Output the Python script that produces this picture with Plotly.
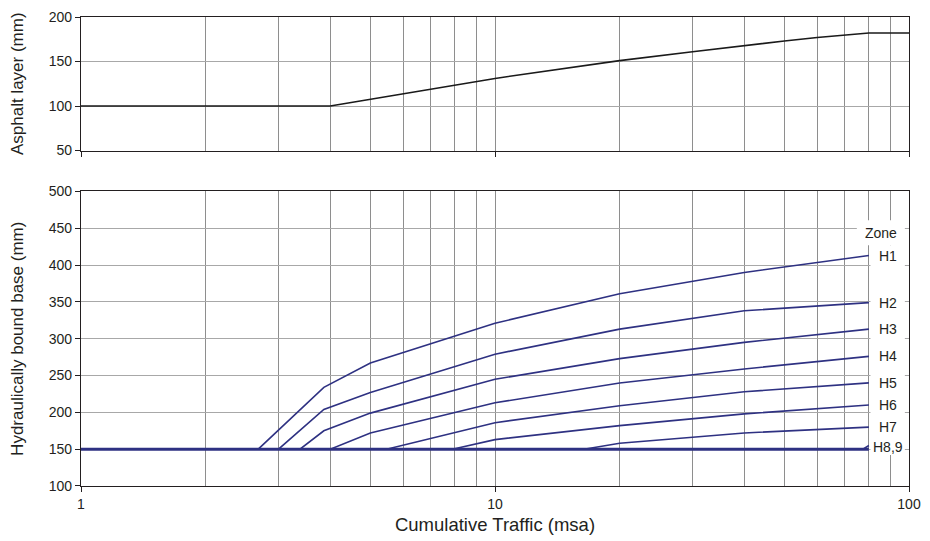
import math
import plotly.graph_objects as go

# ---------------- data ----------------
asphalt_x = [1, 4, 10, 20, 30, 40, 50, 60, 70, 80, 100]
asphalt_y = [100, 100, 131, 151, 161, 168, 173, 177, 180, 182, 182]

zone_names = ["H1", "H2", "H3", "H4", "H5", "H6", "H7", "H8", "H9"]
h1_x = [1, 2.68, 3.86, 5, 10, 20, 40, 80]
h1_y = [150, 150, 234, 267, 321, 361, 390, 413]
h2_x = [1, 3.0, 3.86, 5, 10, 20, 40, 80]
h2_y = [150, 150, 204, 227, 279, 313, 338, 349]
h3_x = [1, 3.38, 3.86, 5, 10, 20, 40, 80]
h3_y = [150, 150, 175, 199, 245, 273, 295, 313]
h4_x = [1, 4.0, 5, 10, 20, 40, 80]
h4_y = [150, 150, 172, 213, 240, 259, 276]
h5_x = [1, 5.47, 10, 20, 40, 80]
h5_y = [150, 150, 186, 209, 228, 240]
h6_x = [1, 7.89, 10, 20, 40, 80]
h6_y = [150, 150, 163, 182, 198, 210]
h7_x = [1, 16.4, 20, 40, 80]
h7_y = [150, 150, 158, 172, 180]
h8_x = [1, 77.4, 80]
h8_y = [150, 150, 155]
h9_x = [1, 80]
h9_y = [150, 150]

zone_labels = ["H1", "H2", "H3", "H4", "H5", "H6", "H7", "H8,9"]
legend_title = "Zone"

x_major_ticks = [1, 10, 100]
x_major_text = ["1", "10", "100"]
x_minor_ticks = [2, 3, 4, 5, 6, 7, 8, 9, 20, 30, 40, 50, 60, 70, 80, 90]
top_y_ticks = [50, 100, 150, 200]
bot_y_ticks = [100, 150, 200, 250, 300, 350, 400, 450, 500]

# ---------------- style ----------------
FONT = "Liberation Sans, Arial, sans-serif"
TXT = "#231f20"
NAVY = "#2e3182"
AXC = "#231f20"
HGRID = "#a8a8a8"
VGRID = "#8e8e8e"

fig = go.Figure()

fig.add_trace(go.Scatter(x=asphalt_x, y=asphalt_y, mode="lines",
                         line=dict(color="#1a1a1a", width=1.6),
                         xaxis="x", yaxis="y", showlegend=False, hoverinfo="skip"))

series = [(h1_x, h1_y), (h2_x, h2_y), (h3_x, h3_y), (h4_x, h4_y), (h5_x, h5_y),
          (h6_x, h6_y), (h7_x, h7_y), (h8_x, h8_y), (h9_x, h9_y)]
for i, (sx, sy) in enumerate(series):
    fig.add_trace(go.Scatter(x=sx, y=sy, mode="lines", name=zone_names[i],
                             line=dict(color=NAVY, width=3 if i == 8 else 1.6),
                             xaxis="x2", yaxis="y2", showlegend=False, hoverinfo="skip"))

def xaxis_common(show_labels):
    return dict(type="log", range=[0, 2],
                tickmode="array", tickvals=x_major_ticks,
                ticktext=x_major_text if show_labels else ["", "", ""],
                ticks="outside", ticklen=5, tickcolor=AXC, tickwidth=1,
                showgrid=True, gridcolor=VGRID, gridwidth=1,
                minor=dict(tickmode="array", tickvals=x_minor_ticks, showgrid=True,
                           gridcolor=VGRID, gridwidth=1, ticks=""),
                showline=True, linecolor=AXC, linewidth=1.2, mirror=True,
                zeroline=False, tickfont=dict(family=FONT, size=14, color=TXT))

def yaxis_common(rng, ticks, title):
    return dict(range=rng, tickmode="array", tickvals=ticks,
                ticks="outside", ticklen=5, tickcolor=AXC, tickwidth=1,
                showgrid=True, gridcolor=HGRID, gridwidth=1,
                showline=True, linecolor=AXC, linewidth=1.2, mirror=True,
                zeroline=False, tickfont=dict(family=FONT, size=14, color=TXT),
                title=dict(text=title, font=dict(family=FONT, size=17, color=TXT),
                           standoff=20))

xa_top = xaxis_common(False)
xa_top.update(anchor="y", domain=[0, 1])
xa_bot = xaxis_common(True)
xa_bot.update(anchor="y2", domain=[0, 1],
              title=dict(text="Cumulative Traffic (msa)",
                         font=dict(family=FONT, size=18.5, color=TXT), standoff=7))

ya_top = yaxis_common([50, 200], top_y_ticks, "Asphalt layer (mm)")
ya_top.update(anchor="x", domain=[0.7153, 1])
ya_bot = yaxis_common([100, 500], bot_y_ticks, "Hydraulically bound base (mm)")
ya_bot.update(anchor="x2", domain=[0, 0.628])

fig.update_layout(
    width=922, height=533,
    margin=dict(l=73, r=21, t=1, b=55),
    paper_bgcolor="white", plot_bgcolor="white",
    xaxis=xa_top, yaxis=ya_top, xaxis2=xa_bot, yaxis2=ya_bot,
    font=dict(family=FONT, color=TXT),
)

# white panel behind the zone labels (hides grid lines there)
fig.add_shape(type="rect", xref="x2 domain", yref="y2",
              x0=0.9535, x1=0.995, y0=142, y1=427,
              fillcolor="white", line=dict(width=0), layer="above")
fig.add_shape(type="rect", xref="x2 domain", yref="y2",
              x0=0.937, x1=0.995, y0=427, y1=461,
              fillcolor="white", line=dict(width=0), layer="above")

label_y = [h1_y[-1], h2_y[-1], h3_y[-1], h4_y[-1], h5_y[-1], h6_y[-1], h7_y[-1], h8_y[-1] - 1.5]
for lab, yv in zip(zone_labels, label_y):
    fig.add_annotation(x=0.9746, xref="x2 domain", y=yv, yref="y2",
                       text=lab, showarrow=False, xanchor="center", yanchor="middle",
                       font=dict(family=FONT, size=14, color=TXT))
fig.add_annotation(x=0.9665, xref="x2 domain", y=443, yref="y2",
                   text=legend_title, showarrow=False, xanchor="center", yanchor="middle",
                   font=dict(family=FONT, size=14, color=TXT))

fig.write_html("out.html")
